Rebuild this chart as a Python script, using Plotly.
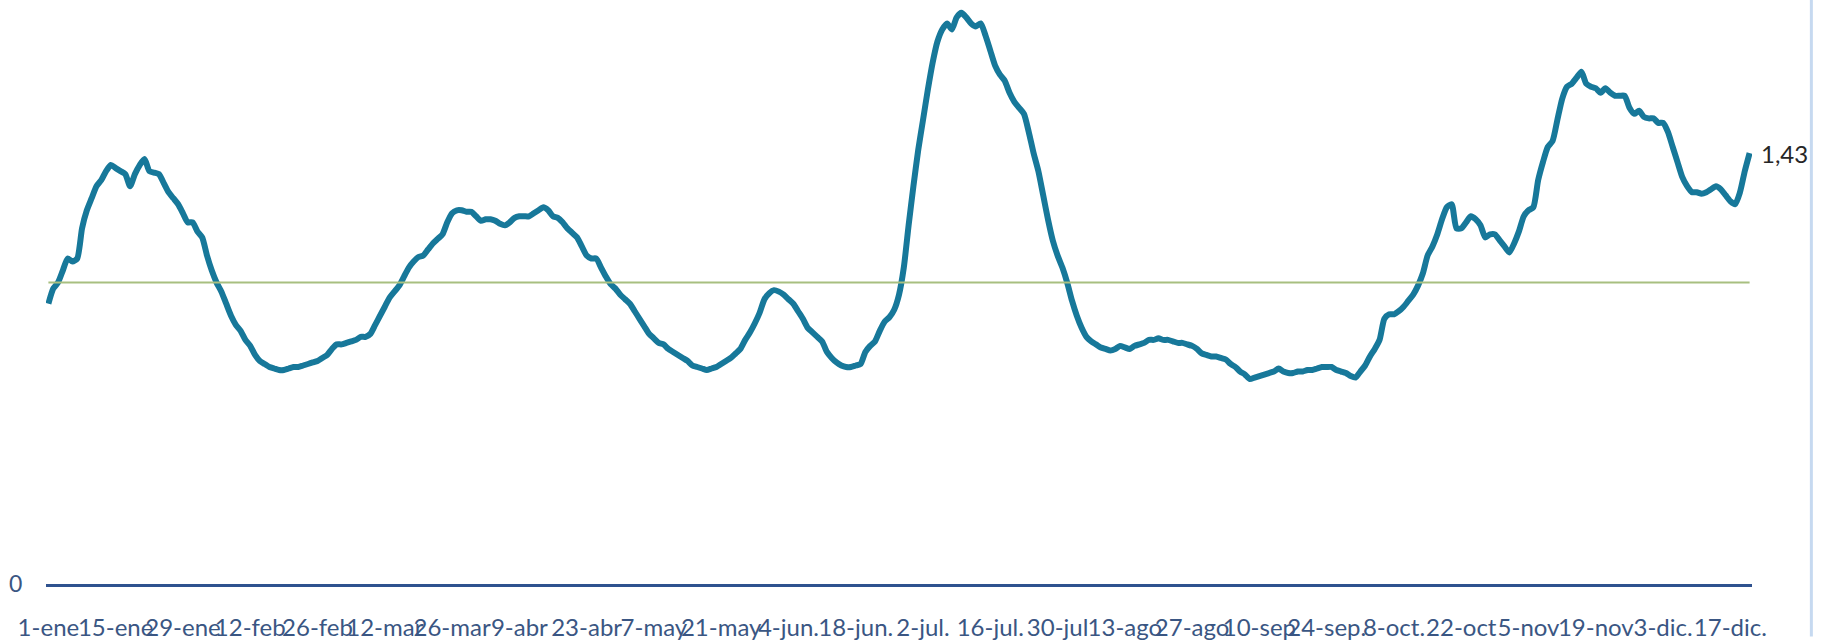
import pandas as pd
import plotly.graph_objects as go

# ---------------- data ----------------
start_date = "2021-01-01"
valores = [
    0.93, 0.98, 1.00, 1.04, 1.08, 1.07, 1.08, 1.18, 1.24, 1.28,
    1.32, 1.34, 1.37, 1.39, 1.38, 1.37, 1.36, 1.32, 1.36, 1.39,
    1.41, 1.37, 1.365, 1.36, 1.33, 1.30, 1.28, 1.26, 1.23, 1.20,
    1.20, 1.17, 1.15, 1.09, 1.04, 1.00, 0.97, 0.93, 0.89, 0.86,
    0.84, 0.81, 0.79, 0.76, 0.74, 0.73, 0.72, 0.715, 0.71, 0.71,
    0.715, 0.72, 0.72, 0.725, 0.73, 0.735, 0.74, 0.75, 0.76, 0.78,
    0.795, 0.795, 0.80, 0.805, 0.81, 0.82, 0.82, 0.83, 0.86, 0.89,
    0.92, 0.95, 0.97, 0.99, 1.02, 1.05, 1.07, 1.085, 1.09, 1.11,
    1.13, 1.145, 1.16, 1.20, 1.23, 1.24, 1.24, 1.235, 1.235, 1.22,
    1.205, 1.21, 1.21, 1.205, 1.195, 1.19, 1.20, 1.215, 1.22, 1.22,
    1.22, 1.23, 1.24, 1.25, 1.24, 1.22, 1.215, 1.20, 1.18, 1.165,
    1.15, 1.12, 1.09, 1.08, 1.08, 1.05, 1.02, 0.995, 0.98, 0.96,
    0.945, 0.93, 0.905, 0.88, 0.855, 0.83, 0.815, 0.80, 0.795, 0.78,
    0.77, 0.76, 0.75, 0.74, 0.725, 0.72, 0.715, 0.71, 0.715, 0.72,
    0.73, 0.74, 0.75, 0.765, 0.78, 0.81, 0.835, 0.865, 0.90, 0.945,
    0.965, 0.975, 0.97, 0.96, 0.945, 0.93, 0.905, 0.88, 0.85, 0.835,
    0.82, 0.805, 0.77, 0.75, 0.735, 0.725, 0.72, 0.72, 0.725, 0.73,
    0.77, 0.79, 0.805, 0.84, 0.87, 0.885, 0.91, 0.96, 1.05, 1.19,
    1.32, 1.44, 1.54, 1.64, 1.73, 1.80, 1.84, 1.86, 1.84, 1.88,
    1.895, 1.88, 1.86, 1.85, 1.86, 1.82, 1.77, 1.72, 1.69, 1.67,
    1.63, 1.60, 1.58, 1.56, 1.50, 1.43, 1.37, 1.29, 1.21, 1.14,
    1.09, 1.05, 1.00, 0.94, 0.89, 0.85, 0.82, 0.805, 0.795, 0.785,
    0.78, 0.775, 0.78, 0.79, 0.785, 0.78, 0.79, 0.795, 0.80, 0.81,
    0.81, 0.815, 0.81, 0.81, 0.805, 0.80, 0.80, 0.795, 0.79, 0.78,
    0.765, 0.76, 0.755, 0.755, 0.75, 0.745, 0.73, 0.72, 0.705, 0.695,
    0.68, 0.685, 0.69, 0.695, 0.70, 0.705, 0.715, 0.705, 0.70, 0.70,
    0.705, 0.705, 0.71, 0.71, 0.715, 0.72, 0.72, 0.72, 0.71, 0.705,
    0.70, 0.69, 0.685, 0.705, 0.725, 0.755, 0.78, 0.81, 0.88, 0.895,
    0.895, 0.905, 0.92, 0.94, 0.96, 0.99, 1.03, 1.09, 1.12, 1.16,
    1.21, 1.25, 1.26, 1.18, 1.18, 1.20, 1.22, 1.21, 1.19, 1.15,
    1.16, 1.16, 1.14, 1.12, 1.10, 1.13, 1.17, 1.22, 1.24, 1.25,
    1.34, 1.40, 1.45, 1.47, 1.54, 1.61, 1.65, 1.66, 1.68, 1.70,
    1.66, 1.65, 1.645, 1.63, 1.645, 1.63, 1.62, 1.62, 1.62, 1.58,
    1.56, 1.57, 1.55, 1.545, 1.545, 1.53, 1.53, 1.50, 1.45, 1.40,
    1.35, 1.32, 1.30, 1.30, 1.295, 1.30, 1.31, 1.32, 1.31, 1.29,
    1.27, 1.26, 1.30, 1.37, 1.43,
]
umbral = 1.0
tick_step_days = 14
tick_labels = [
    "1-ene", "15-ene", "29-ene", "12-feb", "26-feb", "12-mar", "26-mar",
    "9-abr", "23-abr", "7-may", "21-may", "4-jun.", "18-jun.", "2-jul.",
    "16-jul.", "30-jul", "13-ago", "27-ago", "10-sep", "24-sep.", "8-oct.",
    "22-oct", "5-nov", "19-nov", "3-dic.", "17-dic.",
]

# ---------------- figure ----------------
fechas = pd.date_range(start_date, periods=len(valores), freq="D")
tick_vals = list(fechas[::tick_step_days])[: len(tick_labels)]

LINE_COLOR = "#17789A"
REF_COLOR = "#A8BF80"
AXIS_COLOR = "#2F528F"
TEXT_COLOR = "#3A5683"
FONT = "Lato, Carlito, 'Liberation Sans', sans-serif"

fig = go.Figure()
fig.add_trace(go.Scatter(
    x=fechas, y=valores, mode="lines",
    line=dict(color=LINE_COLOR, width=6, shape="spline", smoothing=0.6),
    hoverinfo="skip", showlegend=False,
))
fig.add_trace(go.Scatter(
    x=[fechas[0], fechas[-1]], y=[umbral, umbral], mode="lines",
    line=dict(color=REF_COLOR, width=2),
    hoverinfo="skip", showlegend=False,
))

fig.add_annotation(
    x=fechas[-1], y=valores[-1],
    text=f"{valores[-1]:.2f}".replace(".", ","),
    showarrow=False, xanchor="left", yanchor="middle", xshift=9,
    font=dict(family=FONT, size=24, color="#262626"),
)

half_day = pd.Timedelta(hours=12)
fig.update_xaxes(
    type="date",
    range=[fechas[0] - half_day, fechas[-1] + half_day],
    tickmode="array", tickvals=tick_vals, ticktext=tick_labels,
    tickangle=0,
    tickfont=dict(family=FONT, size=24, color=TEXT_COLOR),
    ticks="outside", ticklen=21, tickcolor="rgba(0,0,0,0)",
    showline=True, linecolor=AXIS_COLOR, linewidth=2.5,
    showgrid=False, zeroline=False,
)
fig.update_yaxes(
    range=[0, 591 / 305],
    tickmode="array", tickvals=[0], ticktext=["0"],
    tickfont=dict(family=FONT, size=23, color=TEXT_COLOR),
    ticks="outside", ticklen=18, tickcolor="rgba(0,0,0,0)",
    showline=False, showgrid=False, zeroline=False,
)

# light-blue frame edge at the right of the picture
fig.add_shape(
    type="line", xref="paper", yref="paper",
    x0=1.0348, x1=1.0348, y0=-0.09, y1=1.0,
    line=dict(color="#C6D9F0", width=3),
)

fig.update_layout(
    width=1829, height=641, autosize=False,
    margin=dict(l=46, r=77, t=0, b=50, pad=0),
    paper_bgcolor="white", plot_bgcolor="white",
    hovermode=False,
)

fig.write_html(
    "out.html",
    config={"displayModeBar": False, "staticPlot": True},
    post_script="document.body.style.margin='0';document.body.style.overflow='hidden';",
)
